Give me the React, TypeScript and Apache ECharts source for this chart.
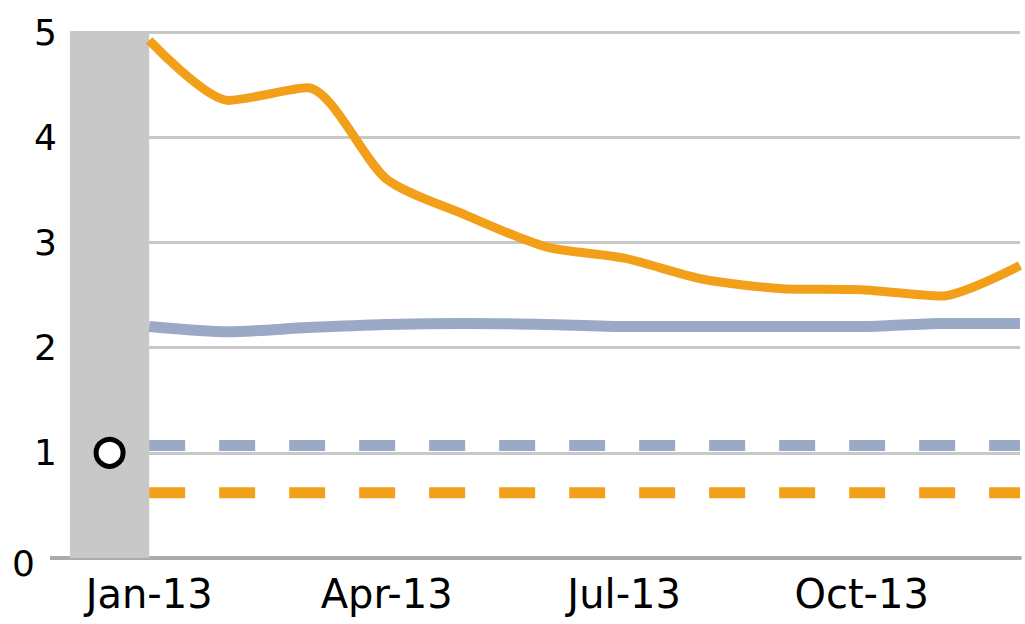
import React, { useEffect, useRef } from "react";
import * as echarts from "echarts";

// x positions: month index, Jan-13 = 0 ... Dec-13 = 11; Dec-12 = -1
const months = ["Jan-13", "Feb-13", "Mar-13", "Apr-13", "May-13", "Jun-13", "Jul-13", "Aug-13", "Sep-13", "Oct-13", "Nov-13", "Dec-13"];
const tickLabels: Record<number, string> = { 0: "Jan-13", 3: "Apr-13", 6: "Jul-13", 9: "Oct-13" };
const orangeSolid = [4.92, 4.35, 4.47, 3.6, 3.26, 2.96, 2.85, 2.65, 2.56, 2.55, 2.49, 2.78];
const blueSolid = [2.2, 2.15, 2.19, 2.22, 2.23, 2.22, 2.2, 2.2, 2.2, 2.2, 2.23, 2.23];
const blueDashed = [1.07, 1.07, 1.07, 1.07, 1.07, 1.07, 1.07, 1.07, 1.07, 1.07, 1.07, 1.07];
const orangeDashed = [0.62, 0.62, 0.62, 0.62, 0.62, 0.62, 0.62, 0.62, 0.62, 0.62, 0.62, 0.62];
const markerPoint = [-0.5, 1];
const shadedRange = [-1, 0];

const ORANGE = "#F2A01A";
const BLUE = "#9AAAC6";

const toXY = (arr: number[]) => arr.map((v, i) => [i, v]);

export default function App() {
  const ref = useRef<HTMLDivElement>(null);
  useEffect(() => {
    if (!ref.current) return;
    const chart = echarts.init(ref.current, null, { renderer: "svg" });
    chart.setOption({
      animation: false,
      backgroundColor: "#ffffff",
      grid: { left: 70, right: 5, top: 32, bottom: 66, containLabel: false },
      graphic: [
        {
          type: "line",
          shape: { x1: 50, y1: 558, x2: 72, y2: 558 },
          style: { stroke: "#ababab", lineWidth: 4 },
          silent: true,
        },
      ],
      xAxis: {
        type: "value",
        min: -1,
        max: 11,
        interval: 1,
        splitLine: { show: false },
        axisTick: { show: false },
        axisLine: { show: true, onZero: false, lineStyle: { color: "#ababab", width: 4 } },
        axisLabel: {
          margin: 16,
          fontFamily: "DejaVu Sans",
          fontSize: 40,
          color: "#000",
          showMinLabel: true,
          showMaxLabel: true,
          formatter: (v: number) => tickLabels[v] ?? "",
        },
      },
      yAxis: {
        type: "value",
        min: 0,
        max: 5,
        interval: 1,
        axisLine: { show: false },
        axisTick: { show: false },
        splitLine: { show: true, lineStyle: { color: "#c8c8c8", width: 3 } },
        axisLabel: {
          margin: 13,
          fontFamily: "DejaVu Sans",
          fontSize: 36,
          color: "#000",
          formatter: (v: number) => (v === 0 ? "{z|0}" : String(v)),
          rich: { z: { fontFamily: "DejaVu Sans", fontSize: 36, color: "#000", padding: [10, 22, 0, 0] } },
        },
      },
      series: [
        {
          type: "line",
          name: "orange",
          data: toXY(orangeSolid),
          smooth: 0.25,
          symbol: "none",
          lineStyle: { color: ORANGE, width: 9 },
          z: 5,
          markArea: {
            silent: true,
            itemStyle: { color: "#c8c8c8" },
            data: [[{ xAxis: shadedRange[0], yAxis: 0 }, { xAxis: shadedRange[1], yAxis: 5 }]],
          },
        },
        {
          type: "line",
          name: "blue",
          data: toXY(blueSolid),
          smooth: 0.25,
          symbol: "none",
          lineStyle: { color: BLUE, width: 11 },
          z: 4,
        },
        {
          type: "line",
          name: "blueDashed",
          data: toXY(blueDashed),
          symbol: "none",
          lineStyle: { color: BLUE, width: 11, type: [36, 34] },
          z: 4,
        },
        {
          type: "line",
          name: "orangeDashed",
          data: toXY(orangeDashed),
          symbol: "none",
          lineStyle: { color: ORANGE, width: 11, type: [36, 34] },
          z: 4,
        },
        {
          type: "scatter",
          name: "marker",
          data: [markerPoint],
          symbol: "circle",
          symbolSize: 27,
          itemStyle: { color: "#ffffff", borderColor: "#000000", borderWidth: 5, opacity: 1 },
          z: 6,
        },
      ],
    });
    return () => chart.dispose();
  }, []);
  return (
    <div
      ref={ref}
      data-months={months.join(",")}
      style={{ position: "fixed", left: 0, top: 0, width: 1025, height: 624 }}
    />
  );
}
